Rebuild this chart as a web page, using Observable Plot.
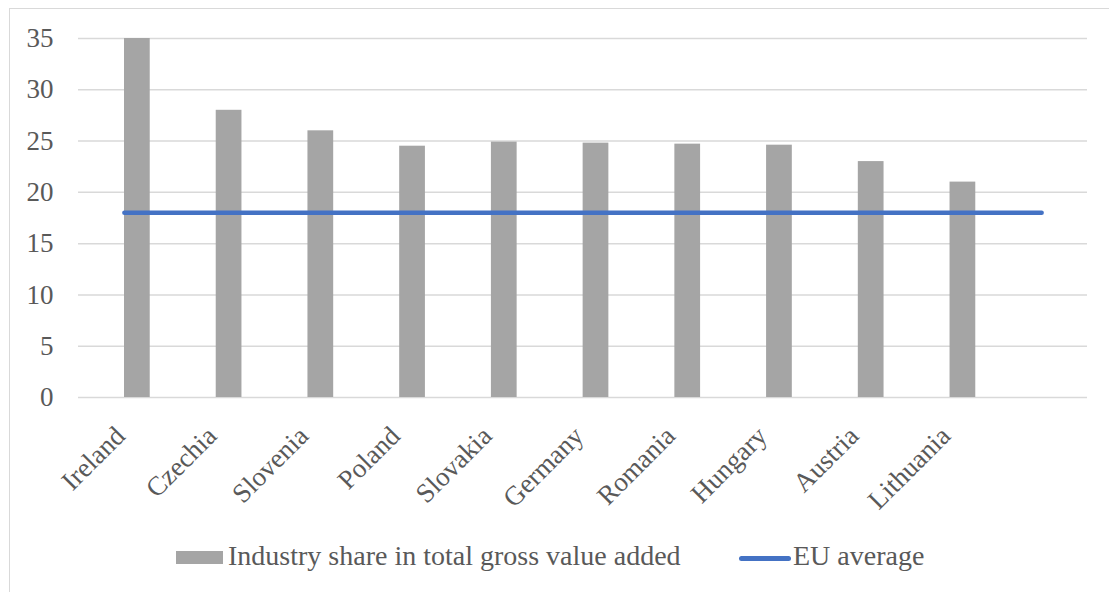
<!DOCTYPE html>
<html>
<head>
<meta charset="utf-8">
<script src="https://cdn.jsdelivr.net/npm/d3@7"></script>
<script src="https://cdn.jsdelivr.net/npm/@observablehq/plot@0.6"></script>
<style>
  html, body { margin: 0; padding: 0; background: #fff; overflow: hidden; }
  #frame { position: absolute; left: 9px; top: 8px; width: 1200px; height: 700px; border-left: 1.5px solid #d9d9d9; border-top: 1.5px solid #d9d9d9; box-sizing: border-box; }
  #chart { position: absolute; left: 0; top: 0; }
  #chart svg text { font-family: "Liberation Serif", serif !important; font-size: 27px !important; font-variant: normal !important; fill: #595959; }
  .lg { position: absolute; font-family: "Liberation Serif", serif; font-size: 28px; line-height: 31px; color: #595959; white-space: nowrap; }
  .sw-bar { position: absolute; left: 176px; top: 551px; width: 47px; height: 13px; background: #a5a5a5; }
  .sw-line { position: absolute; left: 739px; top: 555.5px; width: 52px; height: 5px; background: #4472C4; border-radius: 3px; }
</style>
</head>
<body>
<div id="frame"></div>
<div id="chart"></div>
<div class="sw-bar"></div>
<div class="lg" style="left:228px; top:540px;">Industry share in total gross value added</div>
<div class="sw-line"></div>
<div class="lg" style="left:793px; top:540px;">EU average</div>
<script>
const countries = ["Ireland", "Czechia", "Slovenia", "Poland", "Slovakia", "Germany", "Romania", "Hungary", "Austria", "Lithuania"];
const industryShare = [35, 28, 26, 24.5, 24.9, 24.8, 24.7, 24.6, 23, 21];
const categories = [...countries, ""];
const euAverage = [18, 18, 18, 18, 18, 18, 18, 18, 18, 18, 18];
const yTicks = [0, 5, 10, 15, 20, 25, 30, 35];

const bars = countries.map((c, i) => ({country: c, value: industryShare[i]}));
const line = categories.map((c, i) => ({country: c, value: euAverage[i]}));

const font = "Liberation Serif, serif";
const chart = Plot.plot({
  width: 1109,
  height: 535,
  marginLeft: 78,
  marginRight: 22,
  marginTop: 38,
  marginBottom: 138,
  style: {fontFamily: font, fontSize: "27px", color: "#595959", background: "transparent"},
  x: {type: "band", domain: categories, padding: 0, round: false, label: null},
  y: {domain: [0, 35], label: null},
  marks: [
    Plot.gridY(yTicks, {stroke: "#d9d9d9", strokeOpacity: 1, strokeWidth: 1.5}),
    Plot.barY(bars, {x: "country", y: "value", fill: "#a5a5a5", insetLeft: 46, insetRight: 20}),
    Plot.lineY(line, {x: "country", y: "value", stroke: "#4472C4", strokeWidth: 4.5, strokeLinecap: "round"}),
    Plot.axisY({ticks: yTicks, tickSize: 0, tickPadding: 25, fontSize: 27, fill: "#595959", label: null}),
    Plot.axisX({tickSize: 0, tickPadding: 34, dx: -4, tickRotate: -45, lineAnchor: "middle", textAnchor: "end", fontSize: 27, fill: "#595959", label: null})
  ]
});
document.getElementById("chart").appendChild(chart);
</script>
</body>
</html>
